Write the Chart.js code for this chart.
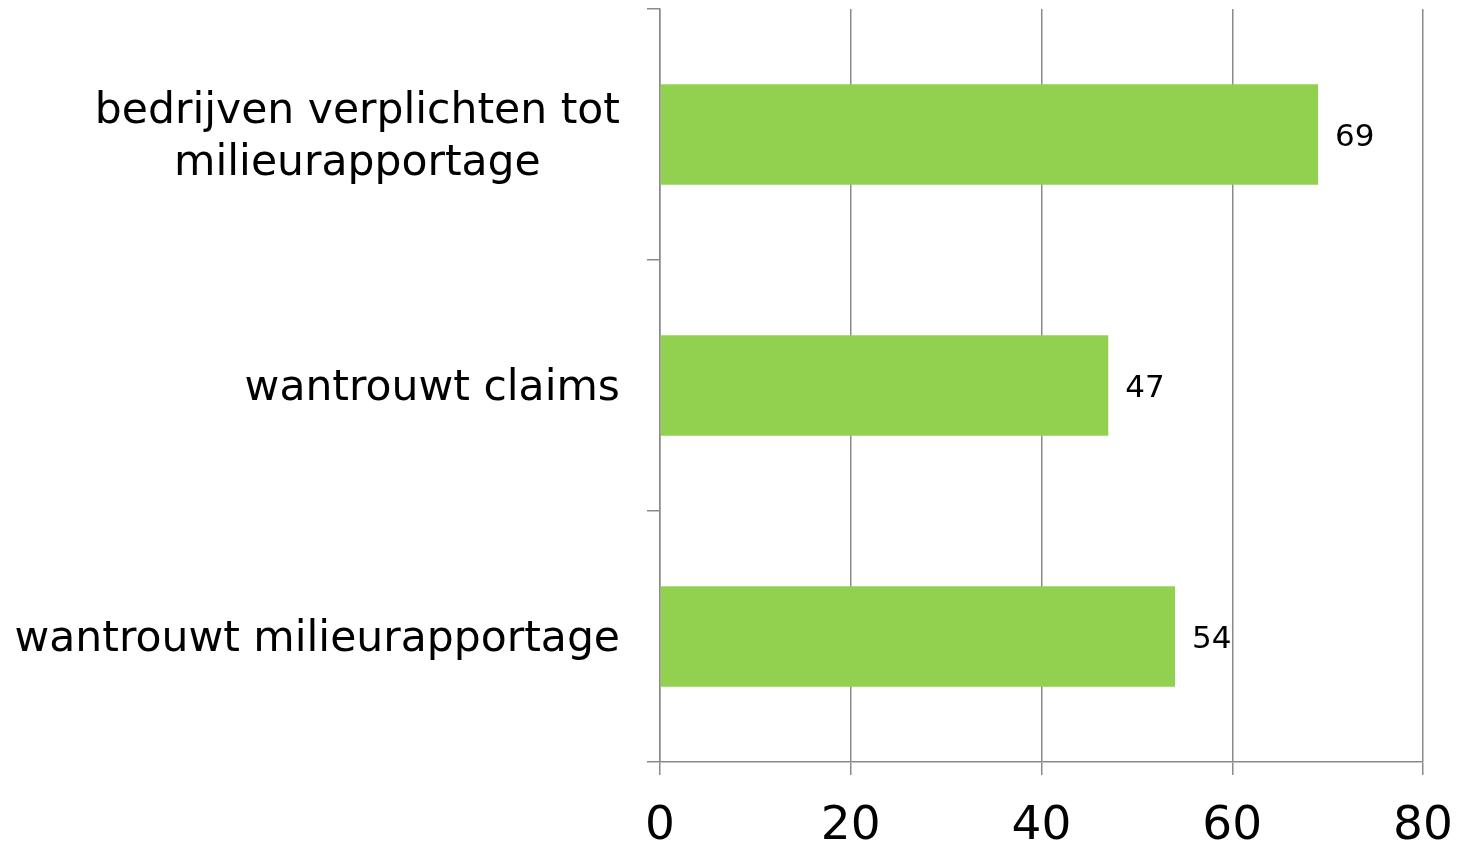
<!DOCTYPE html>
<html>
<head>
<meta charset="utf-8">
<script src="https://cdn.jsdelivr.net/npm/chart.js@4/dist/chart.umd.min.js"></script>
<style>
  html, body { margin: 0; padding: 0; background: #fff; }
  #wrap { width: 1462px; height: 846px; }
</style>
</head>
<body>
<div id="wrap"><canvas id="chart" width="1462" height="846"></canvas></div>
<script>
// categories (top to bottom) and percentages
const categories = [
    ['bedrijven verplichten tot', 'milieurapportage'],
    ['wantrouwt claims'],
    ['wantrouwt milieurapportage']
];
const values = [69, 47, 54];
const xTicks = [0, 20, 40, 60, 80];

const fontFamily = '"DejaVu Sans", Verdana, sans-serif';
const barColor = '#92D050';
const axisColor = '#8a8a8a';

// draws the category labels (centred lines, block right-aligned) and the value labels
const labelPlugin = {
    id: 'labels',
    afterDraw(chart) {
        const ctx = chart.ctx;
        const yScale = chart.scales.y;
        const lineHeight = 52;

        ctx.save();
        ctx.fillStyle = '#000';
        ctx.font = '42.5px ' + fontFamily;
        ctx.textBaseline = 'middle';
        ctx.textAlign = 'center';
        categories.forEach((lines, i) => {
            const yc = yScale.getPixelForValue(i) + 3;
            const blockW = Math.max(...lines.map(l => ctx.measureText(l).width));
            const cx = yScale.right - 40 - blockW / 2;
            lines.forEach((line, j) => {
                const y = yc + (j - (lines.length - 1) / 2) * lineHeight;
                ctx.fillText(line, cx, y);
            });
        });

        ctx.font = '31px ' + fontFamily;
        ctx.textAlign = 'left';
        const meta = chart.getDatasetMeta(0);
        meta.data.forEach((bar, i) => {
            ctx.fillText(String(values[i]), bar.x + 17, bar.y + 3);
        });
        ctx.restore();
    }
};

new Chart(document.getElementById('chart'), {
    type: 'bar',
    data: {
        labels: categories.map(c => c.join(' ')),
        datasets: [{
            data: values,
            backgroundColor: barColor,
            borderWidth: 0,
            barPercentage: 0.4,
            categoryPercentage: 1
        }]
    },
    options: {
        indexAxis: 'y',
        responsive: false,
        animation: false,
        layout: { padding: { top: 9, right: 39, left: 0, bottom: 0 } },
        plugins: {
            legend: { display: false },
            tooltip: { enabled: false }
        },
        scales: {
            x: {
                min: 0,
                max: 80,
                afterBuildTicks: scale => { scale.ticks = xTicks.map(v => ({ value: v })); },
                afterFit: scale => {
                    scale.height = 84;
                    scale.paddingLeft = 0;
                    scale.paddingRight = 0;
                },
                grid: {
                    color: axisColor,
                    lineWidth: 1.5,
                    tickLength: 13,
                    drawOnChartArea: true
                },
                border: { display: true, color: axisColor, width: 1.5 },
                ticks: {
                    color: '#000',
                    font: { family: fontFamily, size: 47 },
                    padding: 24,
                    maxRotation: 0
                }
            },
            y: {
                afterFit: scale => { scale.width = 660; },
                offset: true,
                grid: {
                    color: axisColor,
                    lineWidth: 1.5,
                    tickLength: 13,
                    drawOnChartArea: false,
                    offset: true
                },
                border: { display: true, color: axisColor, width: 1.5 },
                ticks: { display: false }
            }
        }
    },
    plugins: [labelPlugin]
});
</script>
</body>
</html>
